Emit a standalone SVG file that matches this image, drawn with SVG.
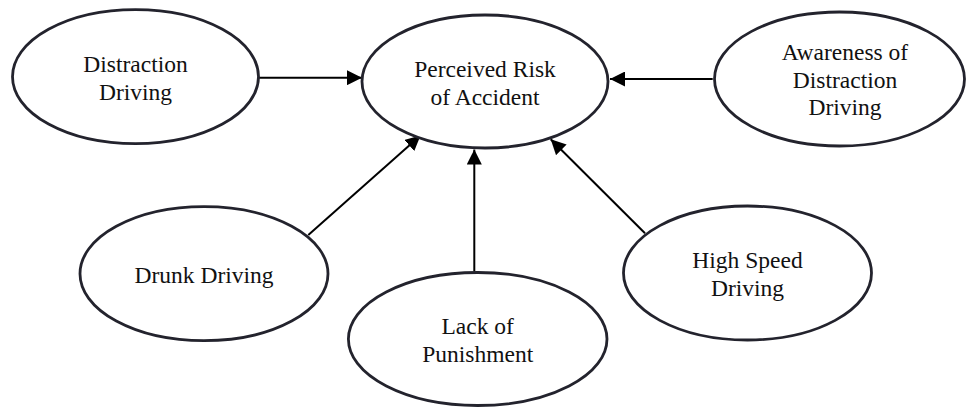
<svg xmlns="http://www.w3.org/2000/svg" width="966" height="407" viewBox="0 0 966 407">
  <style>
    .node ellipse { fill: #ffffff; stroke: #23232d; stroke-width: 2.8; }
    .node text { font-family: 'Liberation Serif', 'DejaVu Serif', serif; font-size: 23.5px; fill: #111111; text-anchor: middle; }
    .edge { stroke: #000000; stroke-width: 2; fill: none; marker-end: url(#arrow); }
  </style>
  <defs>
    <marker id="arrow" markerUnits="userSpaceOnUse" markerWidth="15" markerHeight="15" refX="15" refY="7.5" orient="auto">
      <path d="M0,0 L15,7.5 L0,15 z" fill="#000000"/>
    </marker>
  </defs>
  <rect width="966" height="407" fill="#ffffff"/>

  <g id="connectors">
    <line class="edge" x1="259" y1="77.7" x2="362" y2="77.7"/>
    <line class="edge" x1="308.3" y1="235" x2="420.5" y2="135.5"/>
    <line class="edge" x1="474.3" y1="271.7" x2="474.3" y2="149.5"/>
    <line class="edge" x1="645" y1="233.3" x2="550.7" y2="139.3"/>
    <line class="edge" x1="712.7" y1="79" x2="610" y2="79"/>
  </g>

  <g id="distraction-driving" class="node" font-family="Liberation Serif, serif">
    <ellipse cx="135.5" cy="76.7" rx="123" ry="67"/>
    <text x="135.5" y="72">Distraction</text>
    <text x="135.5" y="99.5">Driving</text>
  </g>

  <g id="perceived-risk" class="node" font-family="Liberation Serif, serif">
    <ellipse cx="485" cy="81.5" rx="123" ry="66.5"/>
    <text x="485" y="77">Perceived Risk</text>
    <text x="485" y="104.5">of Accident</text>
  </g>

  <g id="awareness" class="node" font-family="Liberation Serif, serif">
    <ellipse cx="839.5" cy="79" rx="125" ry="67"/>
    <text x="845" y="60">Awareness of</text>
    <text x="845" y="87.5">Distraction</text>
    <text x="845" y="115">Driving</text>
  </g>

  <g id="drunk-driving" class="node" font-family="Liberation Serif, serif">
    <ellipse cx="204" cy="273.7" rx="124" ry="67"/>
    <text x="204" y="283">Drunk Driving</text>
  </g>

  <g id="lack-of-punishment" class="node" font-family="Liberation Serif, serif">
    <ellipse cx="477.7" cy="339" rx="129.3" ry="66.5"/>
    <text x="477.7" y="334">Lack of</text>
    <text x="477.7" y="361.5">Punishment</text>
  </g>

  <g id="high-speed-driving" class="node" font-family="Liberation Serif, serif">
    <ellipse cx="747.5" cy="273" rx="124" ry="67"/>
    <text x="747.5" y="267.5">High Speed</text>
    <text x="747.5" y="295.5">Driving</text>
  </g>
</svg>
